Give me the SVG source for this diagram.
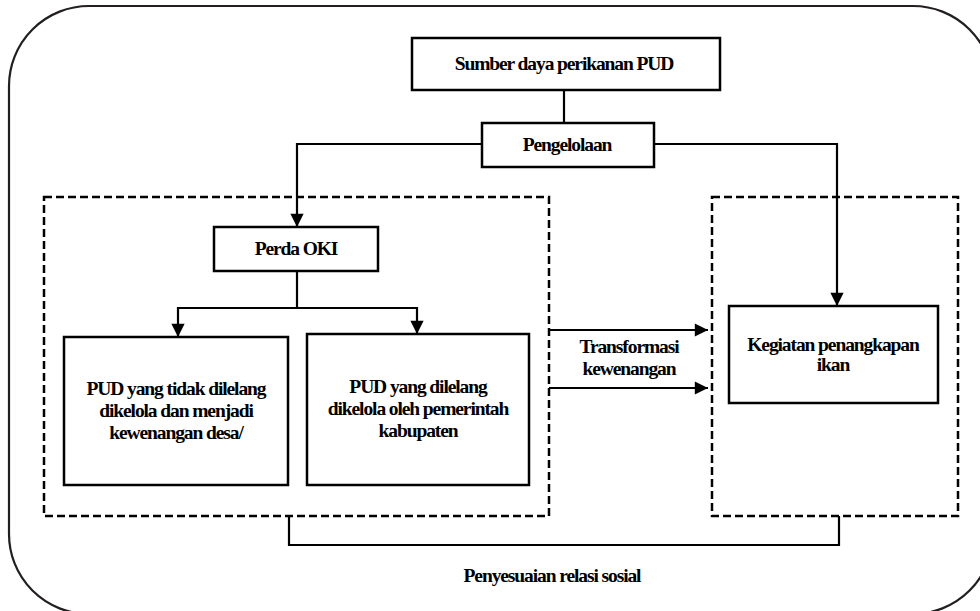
<svg xmlns="http://www.w3.org/2000/svg" width="980" height="611" viewBox="0 0 980 611">
<style>
.box{fill:#fff;stroke:#000;stroke-width:2.5}
.dash{fill:none;stroke:#000;stroke-width:2.5;stroke-dasharray:8 4}
.ln{fill:none;stroke:#000;stroke-width:2.2}
.t{font-family:"Liberation Serif","Times New Roman",serif;font-weight:bold;font-size:19.5px;fill:#000;text-anchor:middle;letter-spacing:-1.1px}
</style>
<defs>
<marker id="ah" viewBox="0 0 10 10" refX="10" refY="5" markerWidth="6.5" markerHeight="6" orient="auto" markerUnits="strokeWidth">
<path d="M0,0 L10,5 L0,10 z" fill="#000"/>
</marker>
</defs>
<rect x="0" y="0" width="980" height="611" fill="#fff"/>
<rect id="frame" x="9" y="6" width="984" height="608" rx="80" ry="80" fill="none" stroke="#231f20" stroke-width="2.2"/>
<g id="group-left"><rect class="dash" x="44" y="197" width="505" height="319"/></g>
<g id="group-right"><rect class="dash" x="712" y="197" width="246" height="319"/></g>
<g id="connectors">
<path class="ln" d="M564,90 V123"/>
<path class="ln" d="M482,144 H297 V227" marker-end="url(#ah)"/>
<path class="ln" d="M654,144 H837 V306" marker-end="url(#ah)"/>
<path class="ln" d="M297,271 V308"/>
<path class="ln" d="M297,308 H178 V337" marker-end="url(#ah)"/>
<path class="ln" d="M297,308 H417 V334" marker-end="url(#ah)"/>
<path class="ln" d="M549,330 H708" marker-end="url(#ah)"/>
<path class="ln" d="M549,388 H708" marker-end="url(#ah)"/>
<path class="ln" d="M289,516 V545 H839 V516"/>
</g>
<g id="sumber"><rect class="box" x="412" y="38" width="308" height="52"/><text class="t" x="564" y="70">Sumber daya perikanan PUD</text></g>
<g id="pengelolaan"><rect class="box" x="482" y="123" width="172" height="44"/><text class="t" x="567" y="151">Pengelolaan</text></g>
<g id="perda"><rect class="box" x="214" y="227" width="164" height="44"/><text class="t" x="296" y="255">Perda OKI</text></g>
<g id="pud-tidak"><rect class="box" x="64" y="337" width="224" height="148"/><text class="t" x="176" y="395">PUD yang tidak dilelang</text><text class="t" x="176" y="417">dikelola dan menjadi</text><text class="t" x="176" y="439">kewenangan desa/</text></g>
<g id="pud-dilelang"><rect class="box" x="307" y="334" width="222" height="151"/><text class="t" x="418" y="393">PUD yang dilelang</text><text class="t" x="418" y="415">dikelola oleh pemerintah</text><text class="t" x="418" y="437">kabupaten</text></g>
<g id="kegiatan"><rect class="box" x="729" y="306" width="209" height="97"/><text class="t" x="833" y="351">Kegiatan penangkapan</text><text class="t" x="833" y="371">ikan</text></g>
<g id="label-transformasi"><text class="t" x="629" y="353">Transformasi</text><text class="t" x="629" y="375">kewenangan</text></g>
<g id="label-penyesuaian"><text class="t" x="552" y="582">Penyesuaian relasi sosial</text></g>
</svg>
